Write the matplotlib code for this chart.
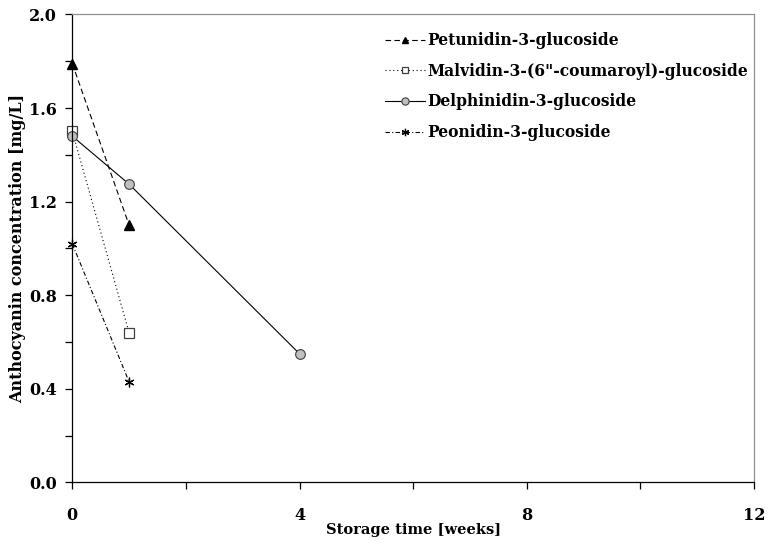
import matplotlib
matplotlib.use("Agg")
import matplotlib.pyplot as plt
from matplotlib.ticker import MultipleLocator, FixedLocator, FormatStrFormatter

plt.rcParams['font.family'] = ['DejaVu Serif']

weeks_short = [0, 1]
weeks_delph = [0, 1, 4]
petunidin = [1.79, 1.10]
malvidin = [1.50, 0.64]
delphinidin = [1.48, 1.275, 0.55]
peonidin = [1.02, 0.43]
labels = ["Petunidin-3-glucoside", "Malvidin-3-(6\"-coumaroyl)-glucoside",
          "Delphinidin-3-glucoside", "Peonidin-3-glucoside"]

fig = plt.figure(figsize=(7.69, 5.45), dpi=100)
ax = fig.add_axes([0.094, 0.1147, 0.9805 - 0.094, 0.9734 - 0.1147])

ax.plot(weeks_short, petunidin, color='black', lw=0.8, dashes=(5, 3),
        marker='^', ms=6.5, mfc='black', mec='black', label=labels[0], clip_on=False)
ax.plot(weeks_short, malvidin, color='black', lw=0.8, linestyle=(0, (1, 2.5)),
        marker='s', ms=6.5, mfc='white', mec='#404040', mew=0.9, label=labels[1], clip_on=False)
ax.plot(weeks_delph, delphinidin, color='black', lw=0.8, linestyle='-',
        marker='o', ms=7, mfc='#c0c0c0', mec='#404040', mew=0.8, label=labels[2], clip_on=False)
ax.plot(weeks_short, peonidin, color='black', lw=0.8, dashes=(4, 2, 1, 2),
        marker=(6, 2, 0), ms=7, mfc='black', mec='black', mew=0.9, label=labels[3], clip_on=False)

ax.set_xlim(0, 12)
ax.set_ylim(0, 2.0)
ax.xaxis.set_major_locator(MultipleLocator(4))
ax.xaxis.set_minor_locator(FixedLocator([2, 6, 10]))
ax.yaxis.set_major_locator(MultipleLocator(0.4))
ax.yaxis.set_minor_locator(MultipleLocator(0.2))
ax.yaxis.set_major_formatter(FormatStrFormatter('%.1f'))

ax.tick_params(which='both', direction='out', length=5, width=0.9, top=False, right=False)
ax.tick_params(axis='x', which='major', pad=13)
ax.tick_params(axis='y', which='major', pad=6)
for lab in ax.get_xticklabels() + ax.get_yticklabels():
    lab.set_fontweight('bold')
    lab.set_fontsize(11.5)

for s in ['top', 'right']:
    ax.spines[s].set_color('#909090')
    ax.spines[s].set_linewidth(0.9)
for s in ['left', 'bottom']:
    ax.spines[s].set_color('black')
    ax.spines[s].set_linewidth(0.9)

ax.set_xlabel("Storage time [weeks]", fontsize=10.5, fontweight='bold', labelpad=-1)
ax.set_ylabel("Anthocyanin concentration [mg/L]", fontsize=11.5, fontweight='bold', labelpad=2)

leg = ax.legend(loc='upper left', bbox_to_anchor=(0.4427, 0.985), frameon=False,
                prop={'weight': 'bold', 'size': 11.2}, handlelength=2.6,
                handletextpad=0.15, labelspacing=0.87, borderaxespad=0.3,
                markerscale=0.75)

fig.savefig("out.png", dpi=100)
